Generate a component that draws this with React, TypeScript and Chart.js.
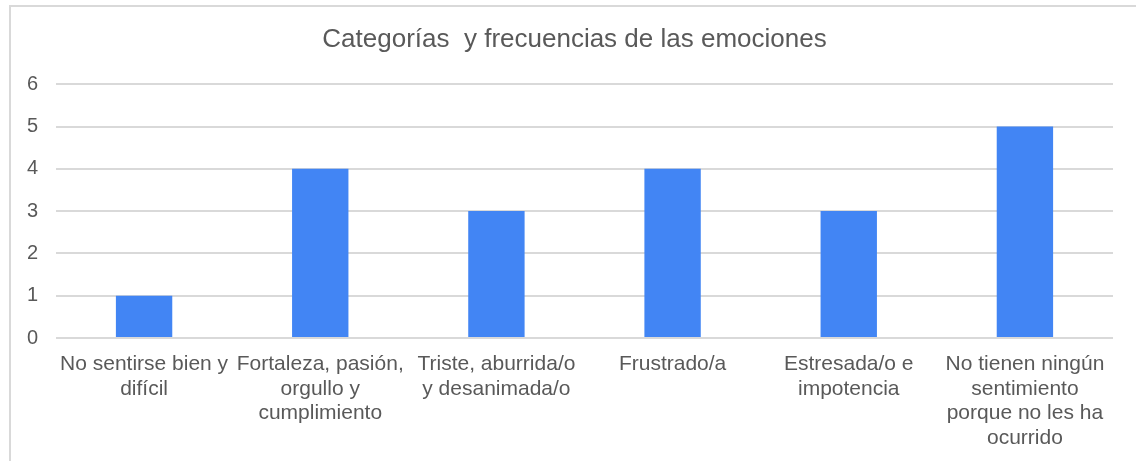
import React, { useEffect, useRef } from "react";
import { Chart, registerables } from "chart.js";

Chart.register(...registerables);

const chartTitle = "Categorías  y frecuencias de las emociones";
const categories: string[][] = [
  ["No sentirse bien y", "difícil"],
  ["Fortaleza, pasión,", "orgullo y", "cumplimiento"],
  ["Triste, aburrida/o", "y desanimada/o"],
  ["Frustrado/a"],
  ["Estresada/o e", "impotencia"],
  ["No tienen ningún", "sentimiento", "porque no les ha", "ocurrido"],
];
const frequencies: number[] = [1, 4, 3, 4, 3, 5];
const yMin = 0;
const yMax = 6;
const yStep = 1;

const FONT = "'Liberation Sans', Arial, sans-serif";
const TEXT = "#595959";
const GRID = "#d9d9d9";
const BAR = "#4285F4";

const borderPlugin = {
  id: "outerBorder",
  afterLayout(chart: any) {
    if (chart.titleBlock) {
      chart.titleBlock.left = 36;
    }
  },
  beforeDraw(chart: any) {
    const ctx = chart.ctx;
    ctx.save();
    ctx.fillStyle = "#ffffff";
    ctx.fillRect(0, 0, chart.width, chart.height);
    ctx.strokeStyle = GRID;
    ctx.lineWidth = 2;
    ctx.strokeRect(10, 6, 1300, 600);
    ctx.restore();
  },
};

export default function App() {
  const ref = useRef<HTMLCanvasElement | null>(null);
  useEffect(() => {
    if (!ref.current) return;
    const chart = new Chart(ref.current, {
      type: "bar",
      data: {
        labels: categories,
        datasets: [
          {
            data: frequencies,
            backgroundColor: BAR,
            borderWidth: 0,
            barPercentage: 0.32,
            categoryPercentage: 1,
          },
        ],
      },
      options: {
        animation: false,
        responsive: false,
        maintainAspectRatio: false,
        devicePixelRatio: 1,
        layout: { padding: { left: 0, right: 23, top: 0, bottom: 0 } },
        plugins: {
          legend: { display: false },
          tooltip: { enabled: false },
          title: {
            display: true,
            text: chartTitle,
            color: TEXT,
            font: { family: FONT, size: 26, weight: "normal" },
            padding: { top: 24, bottom: 29 },
          },
        },
        scales: {
          x: {
            grid: { display: false, drawTicks: false },
            border: { display: false },
            ticks: {
              color: TEXT,
              font: { family: FONT, size: 21, lineHeight: 1.167 },
              padding: 14,
              maxRotation: 0,
              autoSkip: false,
            },
            afterFit: (s: any) => {
              s.height = 123;
            },
          },
          y: {
            min: yMin,
            max: yMax,
            grid: { color: GRID, lineWidth: 2, drawTicks: false },
            border: { display: false },
            ticks: {
              stepSize: yStep,
              color: TEXT,
              font: { family: FONT, size: 20 },
              padding: 18,
            },
            afterFit: (s: any) => {
              s.width = 56;
            },
          },
        },
      },
      plugins: [borderPlugin],
    } as any);
    return () => chart.destroy();
  }, []);
  return (
    <div style={{ position: "fixed", left: 0, top: 0, width: 1136, height: 461, overflow: "hidden", background: "#fff" }}>
      <canvas ref={ref} width={1136} height={461} style={{ display: "block" }} />
    </div>
  );
}
